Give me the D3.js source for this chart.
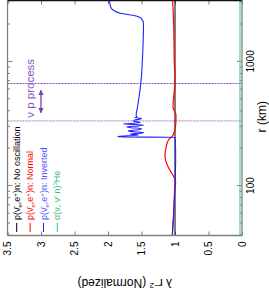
<!DOCTYPE html>
<html><head><meta charset="utf-8">
<script src="https://cdn.jsdelivr.net/npm/d3@7"></script>
<style>body{margin:0;background:#fff}svg{display:block}text{font-family:"Liberation Sans",Arial,sans-serif}</style>
</head><body>
<svg id="c" width="269" height="294"></svg>
<script>
// r (km) axis ticks
const rMajorTicks = [100, 1000];
const rMinorTicks = [40, 50, 60, 70, 80, 90, 200, 300, 400, 500, 600, 700, 800, 900, 2000, 3000];
// lambda r^2 axis ticks
const valueTicks = [0, 0.5, 1, 1.5, 2, 2.5, 3, 3.5];

// series
const rNoOsc = [40, 3150];
const vNoOsc = [1.0, 1.0];

const rNormal = [40, 60, 100, 108, 118, 130, 142, 162, 178, 202, 234, 257, 310, 373, 432, 712, 1000, 2000, 3150];
const vNormal = [1.04, 1.02, 1.0, 0.99, 1.015, 1.06, 1.10, 1.14, 1.15, 1.135, 1.10, 1.03, 0.99, 0.985, 1.03, 1.0, 1.01, 1.02, 1.035];

const rInverted = [40, 60, 100, 180, 247.5, 248, 252, 257, 262, 266, 270, 274, 278, 284, 291, 295, 300, 305, 310, 316, 322, 327, 333, 340, 345, 350, 356, 361, 373, 432, 674, 1241, 2037, 2234, 2375, 2450, 2606, 2767, 3150];
const vInverted = [1.04, 1.02, 1.0, 0.99, 1.0, 1.85, 1.85, 1.55, 1.67, 1.52, 1.47, 1.62, 1.70, 1.55, 1.50, 1.66, 1.72, 1.55, 1.47, 1.77, 1.58, 1.52, 1.62, 1.60, 1.53, 1.50, 1.60, 1.57, 1.58, 1.56, 1.51, 1.48, 1.47, 1.50, 1.63, 1.80, 1.92, 1.96, 1.98];

const rAlpha = [40, 3150];
const vAlpha = [0.03, 0.03];

// nu p process region
const rRegion = [335, 670];
const rArrow = [390, 590];
const vArrow = 3.0;

const svg = d3.select('#c');
const g = svg.append('g').attr('transform', 'translate(0,294) rotate(-90)');

const x = d3.scaleLog().domain([40, 3150]).range([58.5, 294]);
const y = d3.scaleLinear().domain([0, 3.5]).range([242, 7.5]);
const X0 = x.range()[0], X1 = 293.5, Y0 = y.range()[0], Y1 = y.range()[1];

// region lines
g.append('line').attr('x1', x(rRegion[1])).attr('x2', x(rRegion[1])).attr('y1', Y1).attr('y2', Y0)
  .attr('stroke', '#8a4fc0').attr('stroke-width', 1).attr('stroke-dasharray', '2,1');
g.append('line').attr('x1', x(rRegion[0])).attr('x2', x(rRegion[0])).attr('y1', Y1).attr('y2', Y0)
  .attr('stroke', '#c9b3df').attr('stroke-width', 1.8).attr('stroke-dasharray', '2,1');

// arrow
const defs = svg.append('defs');
['s','e'].forEach(k => {
  defs.append('marker').attr('id', 'ah' + k).attr('viewBox', '0 0 10 10').attr('refX', 9).attr('refY', 5)
    .attr('markerWidth', 4).attr('markerHeight', 4).attr('orient', k === 's' ? 'auto-start-reverse' : 'auto')
    .append('path').attr('d', 'M0,0L10,5L0,10z').attr('fill', '#7b3fa3');
});
g.append('line').attr('x1', x(rArrow[0])).attr('x2', x(rArrow[1])).attr('y1', y(vArrow)).attr('y2', y(vArrow))
  .attr('stroke', '#7b3fa3').attr('stroke-width', 1.3)
  .attr('marker-start', 'url(#ahs)').attr('marker-end', 'url(#ahe)');
g.append('text').attr('x', x(rArrow[0]) - 5).attr('y', y(3.11)).attr('font-size', 11.5)
  .attr('fill', '#8a55c0').text('ν p process');

// axes
const gray = '#808080';
function styleAxis(a) { a.select('.domain').remove(); a.selectAll('line').attr('stroke', gray); a.selectAll('text').attr('font-size', 10).attr('font-family', '"Liberation Sans",Arial,sans-serif').attr('fill', '#000'); }
g.append('g').attr('transform', `translate(${X0},0)`)
  .call(d3.axisLeft(y).tickValues(valueTicks).tickFormat(d => String(d)).tickSizeInner(-4).tickSizeOuter(0).tickPadding(6))
  .call(styleAxis);
g.append('g').attr('transform', `translate(${X1},0)`)
  .call(d3.axisRight(y).tickValues(valueTicks).tickFormat('').tickSizeInner(-4).tickSizeOuter(0))
  .call(styleAxis);
g.append('g').attr('transform', `translate(0,${Y0})`)
  .call(d3.axisBottom(x).tickValues(rMajorTicks).tickFormat(d => String(d)).tickSizeInner(-5).tickSizeOuter(0).tickPadding(5))
  .call(styleAxis);
g.append('g').attr('transform', `translate(0,${Y0})`)
  .call(d3.axisBottom(x).tickValues(rMinorTicks).tickFormat('').tickSizeInner(-2.5).tickSizeOuter(0))
  .call(styleAxis);
g.append('g').attr('transform', `translate(0,${Y1})`)
  .call(d3.axisTop(x).tickValues(rMajorTicks).tickFormat('').tickSizeInner(-5).tickSizeOuter(0))
  .call(styleAxis);
g.append('g').attr('transform', `translate(0,${Y1})`)
  .call(d3.axisTop(x).tickValues(rMinorTicks).tickFormat('').tickSizeInner(-2.5).tickSizeOuter(0))
  .call(styleAxis);

// series
const line = d3.line().x(d => x(d[0])).y(d => y(d[1])).curve(d3.curveMonotoneX);
function series(rs, vs, color, w) {
  const pts = rs.map((r, i) => [r, vs[i]]).sort((a, b) => a[0] - b[0]);
  g.append('path').attr('d', line(pts)).attr('fill', 'none').attr('stroke', color).attr('stroke-width', w);
}
series(rNoOsc, vNoOsc, '#000', 1);
series(rNormal, vNormal, '#ff0000', 1.2);
series(rInverted, vInverted, '#2222ff', 1.1);
series(rAlpha, vAlpha, '#3fc29a', 1);

// frame
g.append('line').attr('x1', X0).attr('x2', X0).attr('y1', Y1).attr('y2', Y0).attr('stroke', gray).attr('stroke-width', 1.3);
g.append('line').attr('x1', X0).attr('x2', X1).attr('y1', Y0).attr('y2', Y0).attr('stroke', gray).attr('stroke-width', 1.3);
g.append('line').attr('x1', X0).attr('x2', X1).attr('y1', Y1).attr('y2', Y1).attr('stroke', gray).attr('stroke-width', 1.3);
g.append('line').attr('x1', X1).attr('x2', X1).attr('y1', Y1).attr('y2', Y0).attr('stroke', '#111').attr('stroke-width', 1.5);

// axis labels
const yl = g.append('text').attr('transform', `translate(15,${(Y0 + Y1) / 2}) rotate(-90)`)
  .attr('text-anchor', 'middle').attr('font-size', 12).attr('fill', '#000');
yl.append('tspan').text('λ r');
yl.append('tspan').attr('dy', -4).attr('font-size', 8).text('−2');
yl.append('tspan').attr('dy', 4).text(' (Normalized)');
g.append('text').attr('x', x(Math.sqrt(335 * 390))).attr('y', 265.5).attr('text-anchor', 'middle')
  .attr('font-size', 12).attr('fill', '#000').text('r (km)');

// legend
const legendColors = ['#000', '#ff0000', '#2222ff', '#3fc29a'];
const legendText = ['#000', '#ff0000', '#5555ff', '#3cba78'];
const legendNames = ['No oscillation', 'Normal', 'Inverted', null];
const rowY = [16.7, 30.1, 43.5, 57.3];
legendNames.forEach((nm, i) => {
  g.append('line').attr('x1', 62).attr('x2', 71).attr('y1', rowY[i]).attr('y2', rowY[i])
    .attr('stroke', legendColors[i]).attr('stroke-width', 1);
  const t = g.append('text').attr('x', 74).attr('y', rowY[i]).attr('dy', '0.35em')
    .attr('font-size', 9).attr('fill', legendText[i]);
  if (nm) {
    t.append('tspan').text('p(ν\u0304');
    t.append('tspan').attr('dy', 2).attr('font-size', 6).text('e');
    t.append('tspan').attr('dy', -2).text(',e');
    t.append('tspan').attr('dy', -3).attr('font-size', 6).text('+');
    t.append('tspan').attr('dy', 3).text(')n: ' + nm);
  } else {
    t.append('tspan').text('α(ν, ν′ n)');
    t.append('tspan').attr('dy', -3).attr('font-size', 6).text('3');
    t.append('tspan').attr('dy', 3).text('He');
  }
});
</script>
</body></html>
